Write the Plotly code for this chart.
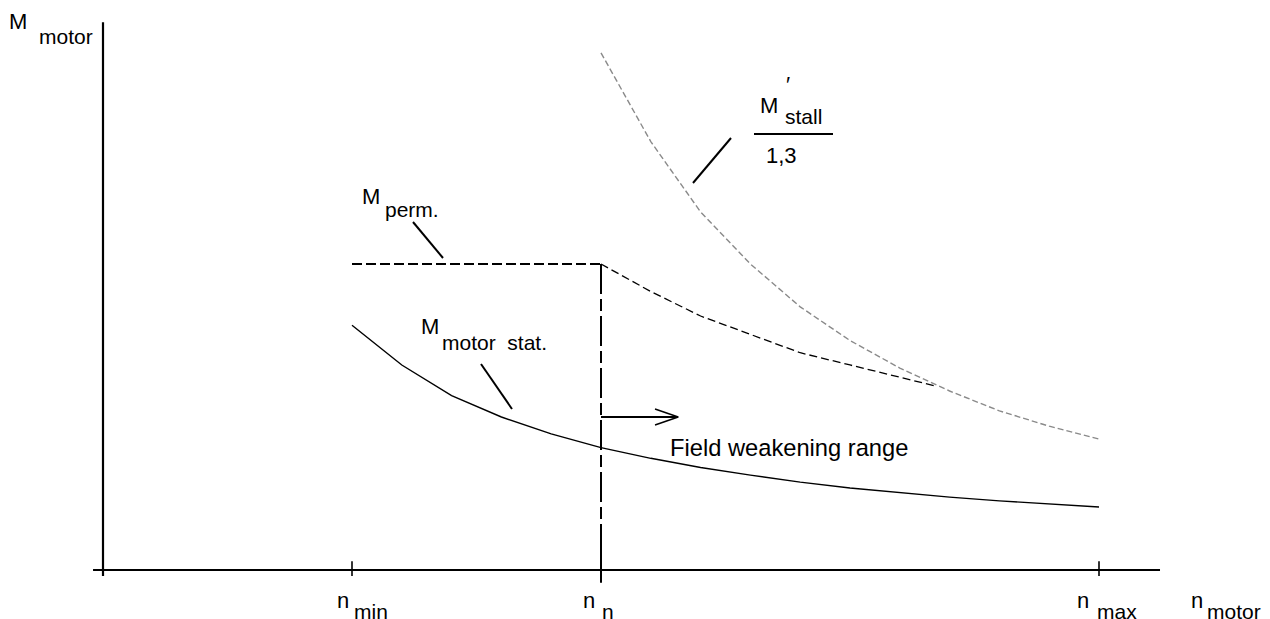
import plotly.graph_objects as go

# Speed axis in units of the field-weakening start (n_n = 2 units, n_min = 1, n_max = 4)
n_min, n_n, n_max = 1.0, 2.0, 4.0

# Permissible torque: constant up to n_n, then falling in the field-weakening range
perm_flat_n = [1.0, 2.0]
perm_flat_m = [1.0, 1.0]
perm_fw_n = [2.0, 2.2, 2.4, 2.6, 2.8, 3.0, 3.2, 3.35]
perm_fw_m = [1.0, 0.91, 0.83, 0.77, 0.71, 0.67, 0.63, 0.60]

# Stall torque divided by 1.3
stall_n = [2.0, 2.2, 2.4, 2.6, 2.8, 3.0, 3.2, 3.4, 3.6, 3.8, 4.0]
stall_m = [1.69, 1.40, 1.17, 1.00, 0.86, 0.75, 0.66, 0.585, 0.52, 0.47, 0.428]

# Static motor torque
stat_n = [1.0, 1.2, 1.4, 1.6, 1.8, 2.0, 2.2, 2.4, 2.6, 2.8, 3.0, 3.2, 3.4, 3.6, 3.8, 4.0]
stat_m = [0.80, 0.67, 0.57, 0.50, 0.445, 0.40, 0.365, 0.335, 0.31, 0.287, 0.268, 0.252,
          0.238, 0.226, 0.215, 0.206]

# Tick labels on the speed axis
tick_vals = [n_min, n_n, n_max]
tick_main = ["n", "n", "n"]
tick_subs = ["min", "n", "max"]

W, H = 1270, 619
FONT = "Liberation Sans, Arial, Helvetica, sans-serif"
X0, Y0, XS, YS = 103, 570, 249, 306   # plot origin and scale in pixels
x_range = [-X0 / XS, (W - X0) / XS]
y_range = [-(H - Y0) / YS, Y0 / YS]

fig = go.Figure()

fig.add_trace(go.Scatter(x=perm_flat_n, y=perm_flat_m, mode="lines",
                         line=dict(color="black", width=1.8, dash="10px,4px")))
fig.add_trace(go.Scatter(x=perm_fw_n, y=perm_fw_m, mode="lines",
                         line=dict(color="black", width=1.3, dash="8px,4px")))
fig.add_trace(go.Scatter(x=stall_n, y=stall_m, mode="lines",
                         line=dict(color="#8a8a8a", width=1.4, dash="6px,3px")))
fig.add_trace(go.Scatter(x=stat_n, y=stat_m, mode="lines",
                         line=dict(color="black", width=1.4)))
# Start of the field-weakening range
fig.add_trace(go.Scatter(x=[n_n, n_n], y=[perm_flat_m[-1], 0], mode="lines",
                         line=dict(color="black", width=2, dash="30px,5px,12px,5px")))

shapes = []


def dline(x0, y0, x1, y1, w=2):
    shapes.append(dict(type="line", xref="x", yref="y", x0=x0, y0=y0, x1=x1, y1=y1,
                       line=dict(color="black", width=w)))


def pline(px0, py0, px1, py1, w=2):
    shapes.append(dict(type="line", xref="paper", yref="paper",
                       x0=px0 / W, y0=1 - py0 / H, x1=px1 / W, y1=1 - py1 / H,
                       line=dict(color="black", width=w)))


# Axes
dline(-0.04, 0, 4.245, 0, 2)
dline(0, -0.02, 0, 1.79, 2.2)
# Ticks
for v in tick_vals:
    if v == n_n:
        dline(v, 0.072, v, -0.042, 2)
    else:
        dline(v, 0.029, v, -0.02, 1.6)

# Arrow into the field-weakening range
ay = 0.5
dline(n_n, ay, n_n + 0.31, ay, 2)
dline(n_n + 0.31, ay, n_n + 0.217, ay + 0.026, 1.5)
dline(n_n + 0.31, ay, n_n + 0.217, ay - 0.026, 1.5)

# Leader lines for the curve labels
pline(413, 222, 443, 258)
pline(481, 364, 512, 409)
pline(731, 138, 693, 183)
# Fraction bar
pline(754, 134, 833, 134, 2.2)

annotations = []


def txt(text, left, baseline, size):
    annotations.append(dict(text=text, xref="paper", yref="paper",
                            x=left / W, y=1 - (baseline - 0.33 * size) / H,
                            xanchor="left", yanchor="middle", showarrow=False,
                            borderpad=0, borderwidth=0,
                            font=dict(family=FONT, size=size, color="black")))


# Torque axis title
txt("M", 9, 29, 22)
txt("motor", 39, 43, 21)
# Speed axis title
txt("n", 1191, 608, 22)
txt("motor", 1207, 618, 21)
# Speed tick labels
main_left = [337, 583, 1077]
sub_left = [354, 602, 1097]
for i in range(len(tick_vals)):
    txt(tick_main[i], main_left[i], 608, 22)
    txt(tick_subs[i], sub_left[i], 618, 21)

# Curve labels
txt("M", 362, 204, 22)
txt("perm.", 385, 216, 21)
txt("M", 421, 334, 22)
txt("motor  stat.", 442, 349, 21)
txt("M", 760, 113, 22)
txt("stall", 785, 123, 21)
txt("′", 786, 92, 22)
txt("1,3", 766, 163, 22)
txt("Field weakening range", 670, 456, 23.7)

fig.update_layout(
    width=W, height=H, margin=dict(l=0, r=0, t=0, b=0),
    paper_bgcolor="white", plot_bgcolor="white", showlegend=False,
    xaxis=dict(range=x_range, visible=False, fixedrange=True),
    yaxis=dict(range=y_range, visible=False, fixedrange=True),
    shapes=shapes, annotations=annotations,
)

fig.write_html("out.html")
